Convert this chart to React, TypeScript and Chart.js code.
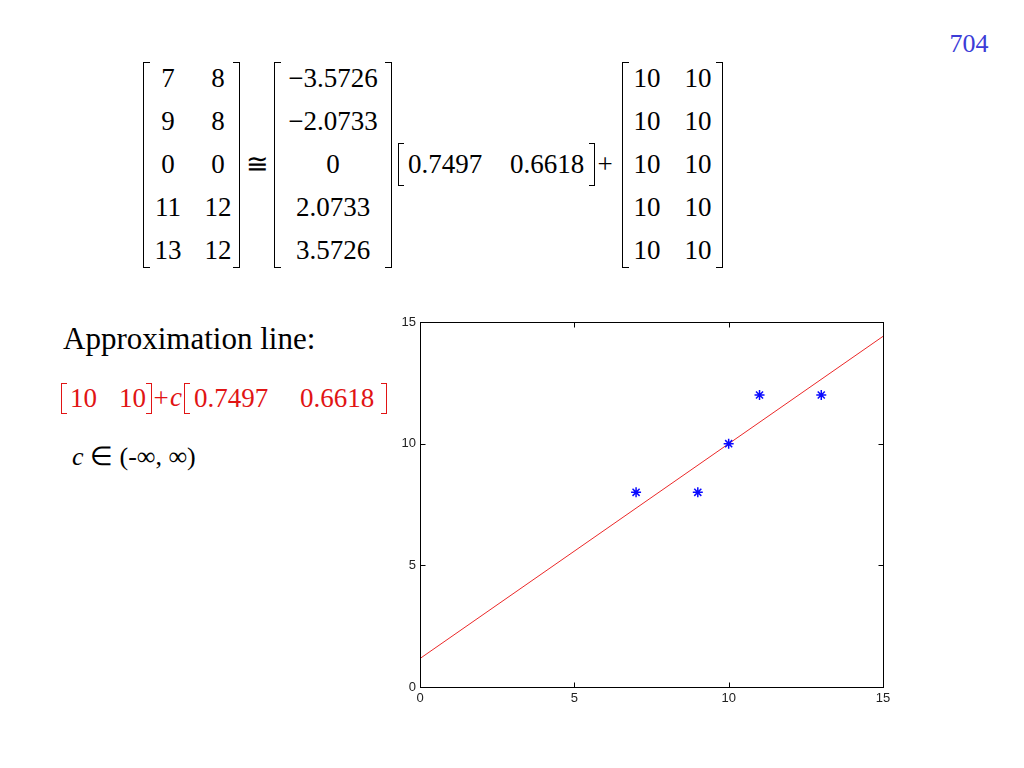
import React, { useEffect, useRef } from "react";
import { Chart, registerables } from "chart.js";

Chart.register(...registerables);

// ---- data ----
const pointX = [7, 9, 10, 11, 13];
const pointY = [8, 8, 10, 12, 12];
const lineX = [0, 15];
const lineY = [1.17, 14.41];
const tickValues = [0, 5, 10, 15];

const matrixA = [["7", "8"], ["9", "8"], ["0", "0"], ["11", "12"], ["13", "12"]];
const vectorU = ["\u22123.5726", "\u22122.0733", "0", "2.0733", "3.5726"];
const matrixMean = [["10", "10"], ["10", "10"], ["10", "10"], ["10", "10"], ["10", "10"]];
const direction = ["0.7497", "0.6618"];
const meanPoint = ["10", "10"];

const SERIF = "'Liberation Serif', 'Times New Roman', serif";

type TProps = {
  x: number;
  y: number;
  children: React.ReactNode;
  size?: number;
  color?: string;
  anchor?: "left" | "center";
  italic?: boolean;
};

function T({ x, y, children, size = 27, color = "#000", anchor = "center", italic }: TProps) {
  return (
    <div
      style={{
        position: "absolute",
        left: x,
        top: y,
        transform: anchor === "center" ? "translate(-50%,-50%)" : "translate(0,-50%)",
        whiteSpace: "pre",
        lineHeight: 1,
        fontSize: size,
        color,
        fontStyle: italic ? "italic" : "normal",
        fontFamily: SERIF,
      }}
    >
      {children}
    </div>
  );
}

function Bracket({ x, top, bottom, side, color = "#000", w = 7 }: { x: number; top: number; bottom: number; side: "l" | "r"; color?: string; w?: number }) {
  const b = `1.5px solid ${color}`;
  return (
    <div
      style={{
        position: "absolute",
        left: x,
        top,
        width: w,
        height: bottom - top,
        boxSizing: "border-box",
        borderTop: b,
        borderBottom: b,
        borderLeft: side === "l" ? b : "none",
        borderRight: side === "r" ? b : "none",
      }}
    />
  );
}

const rowY = [78, 121, 164, 207, 250];

const boxTicks = {
  id: "boxTicks",
  afterDatasetsDraw(chart: any) {
    const { ctx, chartArea } = chart;
    const xs = chart.scales.x;
    const ys = chart.scales.y;
    ctx.save();
    ctx.strokeStyle = "#000";
    ctx.lineWidth = 1;
    const l = Math.round(chartArea.left) + 0.5;
    const r = Math.round(chartArea.right) + 0.5;
    const t = Math.round(chartArea.top) + 0.5;
    const b = Math.round(chartArea.bottom) + 0.5;
    ctx.strokeRect(l, t, r - l, b - t);
    const len = 5;
    ctx.beginPath();
    tickValues.forEach((v) => {
      const px = Math.round(xs.getPixelForValue(v)) + 0.5;
      ctx.moveTo(px, b);
      ctx.lineTo(px, b - len);
      ctx.moveTo(px, t);
      ctx.lineTo(px, t + len);
      const py = Math.round(ys.getPixelForValue(v)) + 0.5;
      ctx.moveTo(l, py);
      ctx.lineTo(l + len, py);
      ctx.moveTo(r, py);
      ctx.lineTo(r - len, py);
    });
    ctx.stroke();
    ctx.restore();
  },
};

function ScatterChart() {
  const ref = useRef<HTMLCanvasElement | null>(null);
  useEffect(() => {
    if (!ref.current) return;
    const tickFont = { family: "'Liberation Sans', Arial, sans-serif", size: 13 };
    const chart = new Chart(ref.current, {
      type: "scatter",
      data: {
        datasets: [
          {
            label: "fit",
            data: lineX.map((x, i) => ({ x, y: lineY[i] })),
            showLine: true,
            borderColor: "rgb(235,40,40)",
            borderWidth: 1,
            pointRadius: 0,
            order: 2,
          },
          {
            label: "points",
            data: pointX.map((x, i) => ({ x, y: pointY[i] })),
            showLine: false,
            pointStyle: "star",
            pointRadius: 5,
            borderColor: "rgb(10,10,255)",
            backgroundColor: "rgb(10,10,255)",
            borderWidth: 1.5,
            order: 1,
          },
        ],
      },
      options: {
        animation: false,
        responsive: false,
        devicePixelRatio: 1,
        layout: { padding: { top: 22, right: 17, left: 0, bottom: 0 } },
        plugins: { legend: { display: false }, tooltip: { enabled: false } },
        scales: {
          x: {
            type: "linear",
            min: 0,
            max: 15,
            afterFit: (s: any) => {
              s.height = 33;
            },
            afterBuildTicks: (s: any) => {
              s.ticks = tickValues.map((v) => ({ value: v }));
            },
            grid: { display: false, drawTicks: false },
            border: { display: false },
            ticks: { color: "#222", font: tickFont, padding: 4, maxRotation: 0 },
          },
          y: {
            type: "linear",
            min: 0,
            max: 15,
            afterFit: (s: any) => {
              s.width = 30;
            },
            afterBuildTicks: (s: any) => {
              s.ticks = tickValues.map((v) => ({ value: v }));
            },
            grid: { display: false, drawTicks: false },
            border: { display: false },
            ticks: { color: "#222", font: tickFont, padding: 4 },
          },
        },
      },
      plugins: [boxTicks],
    } as any);
    return () => chart.destroy();
  }, []);
  return (
    <canvas
      ref={ref}
      width={510}
      height={420}
      style={{ position: "absolute", left: 390, top: 300, width: 510, height: 420 }}
    />
  );
}

export default function App() {
  return (
    <div
      style={{
        position: "absolute",
        left: 0,
        top: 0,
        width: 1024,
        height: 768,
        background: "#fff",
        overflow: "hidden",
        fontFamily: SERIF,
      }}
    >
      <T x={969} y={44} size={26} color="rgb(60,60,215)">704</T>

      {/* matrix A */}
      <Bracket x={143} top={62} bottom={268} side="l" />
      <Bracket x={233} top={62} bottom={268} side="r" />
      {matrixA.map((r, i) => (
        <React.Fragment key={"a" + i}>
          <T x={168} y={rowY[i]}>{r[0]}</T>
          <T x={218} y={rowY[i]}>{r[1]}</T>
        </React.Fragment>
      ))}
      <T x={257} y={164}>{"\u2245"}</T>

      {/* vector U */}
      <Bracket x={274} top={62} bottom={268} side="l" />
      <Bracket x={385} top={62} bottom={268} side="r" />
      {vectorU.map((v, i) => (
        <T key={"u" + i} x={333} y={rowY[i]}>{v}</T>
      ))}

      {/* direction row vector */}
      <Bracket x={398} top={143} bottom={186} side="l" w={6} />
      <T x={408} y={164} anchor="left">{direction[0]}</T>
      <T x={510} y={164} anchor="left">{direction[1]}</T>
      <Bracket x={589} top={143} bottom={186} side="r" w={6} />
      <T x={605} y={164}>+</T>

      {/* mean matrix */}
      <Bracket x={622} top={62} bottom={268} side="l" />
      <Bracket x={716} top={62} bottom={268} side="r" />
      {matrixMean.map((r, i) => (
        <React.Fragment key={"m" + i}>
          <T x={647} y={rowY[i]}>{r[0]}</T>
          <T x={698} y={rowY[i]}>{r[1]}</T>
        </React.Fragment>
      ))}

      <T x={63} y={338} anchor="left" size={31}>Approximation line:</T>

      {/* red line equation */}
      <Bracket x={61} top={383} bottom={414} side="l" color="rgb(225,20,20)" w={6} />
      <T x={70} y={398} anchor="left" color="rgb(225,20,20)">{meanPoint[0]}</T>
      <T x={119} y={398} anchor="left" color="rgb(225,20,20)">{meanPoint[1]}</T>
      <Bracket x={146} top={383} bottom={414} side="r" color="rgb(225,20,20)" w={6} />
      <T x={161} y={398} color="rgb(225,20,20)">+</T>
      <T x={176} y={397} color="rgb(225,20,20)" italic>c</T>
      <Bracket x={184} top={383} bottom={414} side="l" color="rgb(225,20,20)" w={6} />
      <T x={194} y={398} anchor="left" color="rgb(225,20,20)">{direction[0]}</T>
      <T x={300} y={398} anchor="left" color="rgb(225,20,20)">{direction[1]}</T>
      <Bracket x={381} top={383} bottom={414} side="r" color="rgb(225,20,20)" w={6} />

      <T x={72} y={457} anchor="left" size={26}>
        <i>c</i>
        {" \u2208 (-\u221E, \u221E)"}
      </T>

      <ScatterChart />
    </div>
  );
}
